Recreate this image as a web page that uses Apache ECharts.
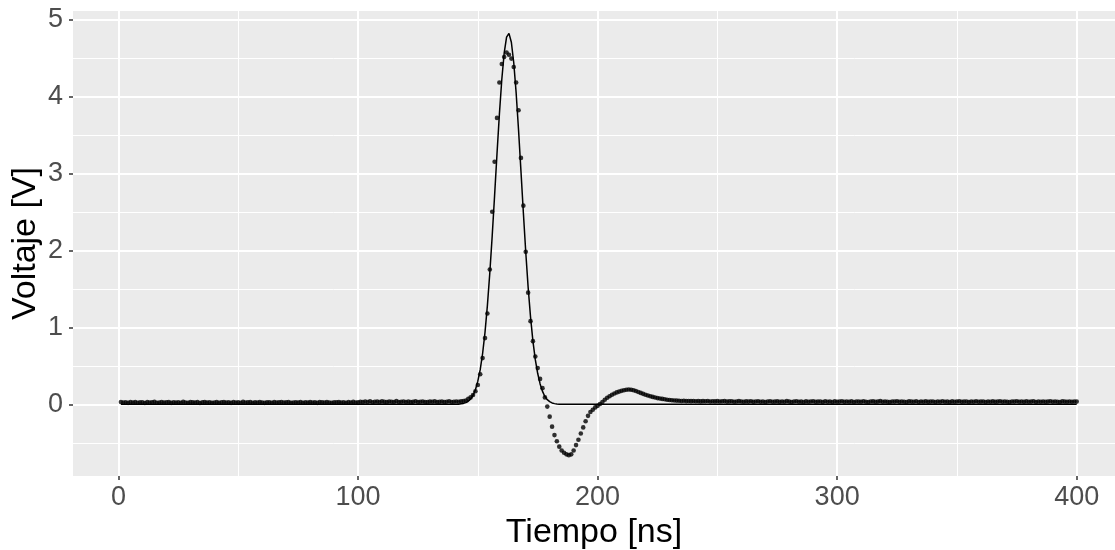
<!DOCTYPE html>
<html><head><meta charset="utf-8">
<script src="https://cdn.jsdelivr.net/npm/echarts@6/dist/echarts.min.js"></script>
<style>html,body{margin:0;padding:0;background:#fff}#c{width:1115px;height:550px}</style>
</head><body><div id="c"></div>
<script>
// ---- data ----
const xTicks = [0, 100, 200, 300, 400];
const yTicks = [0, 1, 2, 3, 4, 5];
const sampleStart = 1;      // ns, first sample
const sampleStep = 1;       // ns between samples

// measured voltage, t = 1..100
const voltBaseLeft = [
0.030,0.022,0.026,0.019,0.028,0.024,0.031,0.021,0.025,0.027,
0.018,0.029,0.023,0.026,0.032,0.020,0.024,0.028,0.022,0.025,
0.030,0.019,0.027,0.023,0.026,0.021,0.033,0.024,0.020,0.028,
0.025,0.022,0.029,0.018,0.026,0.031,0.023,0.027,0.021,0.024,
0.028,0.020,0.025,0.030,0.022,0.026,0.019,0.029,0.024,0.027,
0.021,0.032,0.023,0.025,0.028,0.020,0.026,0.022,0.030,0.024,
0.019,0.027,0.025,0.021,0.029,0.023,0.026,0.031,0.022,0.025,
0.028,0.020,0.024,0.027,0.023,0.030,0.021,0.026,0.024,0.028,
0.022,0.025,0.019,0.029,0.026,0.023,0.031,0.024,0.021,0.027,
0.025,0.030,0.022,0.026,0.020,0.028,0.024,0.032,0.023,0.027];
// t = 101..144
const voltBaseMid = [
0.034,0.029,0.036,0.031,0.039,0.027,0.033,0.035,0.030,0.038,
0.032,0.028,0.037,0.034,0.030,0.041,0.029,0.033,0.036,0.031,
0.035,0.028,0.032,0.039,0.030,0.034,0.037,0.031,0.029,0.035,
0.033,0.038,0.030,0.032,0.036,0.029,0.034,0.040,0.031,0.033,
0.036,0.034,0.039,0.042];
// t = 145..230
const voltPulse = [
0.05,0.07,0.09,0.12,0.17,0.25,0.39,0.60,0.86,1.18,
1.75,2.50,3.15,3.72,4.18,4.42,4.51,4.57,4.54,4.49,
4.38,4.18,3.82,3.20,2.58,1.98,1.45,1.08,0.82,0.62,
0.47,0.33,0.21,0.09,-0.03,-0.16,-0.29,-0.40,-0.48,-0.55,
-0.60,-0.63,-0.65,-0.66,-0.65,-0.60,-0.53,-0.46,-0.38,-0.30,
-0.22,-0.15,-0.10,-0.07,-0.04,-0.02,0.005,0.03,0.06,0.085,
0.105,0.125,0.14,0.155,0.165,0.175,0.183,0.19,0.192,0.19,
0.183,0.172,0.16,0.148,0.136,0.125,0.115,0.105,0.096,0.088,
0.081,0.075,0.07,0.065,0.06,0.056];
// t = 231..400
const voltBaseRight = [
0.053,0.050,0.048,0.047,0.044,0.046,0.042,0.044,0.041,0.043,
0.040,0.042,0.038,0.041,0.039,0.043,0.037,0.040,0.038,0.041,
0.036,0.039,0.042,0.035,0.038,0.040,0.034,0.037,0.041,0.036,
0.033,0.038,0.035,0.040,0.032,0.036,0.039,0.034,0.037,0.031,
0.036,0.040,0.033,0.035,0.038,0.032,0.037,0.034,0.041,0.035,
0.031,0.036,0.039,0.033,0.035,0.030,0.038,0.034,0.036,0.040,
0.032,0.035,0.037,0.031,0.039,0.034,0.036,0.030,0.038,0.033,
0.035,0.040,0.032,0.036,0.034,0.038,0.031,0.037,0.035,0.033,
0.039,0.034,0.030,0.036,0.038,0.032,0.035,0.041,0.033,0.036,
0.034,0.031,0.037,0.035,0.039,0.032,0.036,0.034,0.030,0.038,
0.035,0.033,0.040,0.031,0.036,0.034,0.038,0.032,0.035,0.037,
0.030,0.036,0.034,0.039,0.033,0.035,0.031,0.038,0.034,0.036,
0.040,0.032,0.035,0.037,0.031,0.036,0.034,0.039,0.033,0.035,
0.037,0.030,0.036,0.034,0.038,0.032,0.035,0.040,0.033,0.036,
0.034,0.031,0.037,0.035,0.039,0.033,0.036,0.032,0.038,0.034,
0.035,0.040,0.031,0.036,0.034,0.037,0.032,0.035,0.039,0.033,
0.036,0.034,0.030,0.038,0.035,0.033,0.037,0.034,0.036,0.035];

// fitted curve (solid line)
const fitTime = [1,142,143,144,145,146,147,148,149,150,151,152,153,154,155,156,157,158,159,160,161,162,163,164,165,166,167,168,169,170,171,172,173,174,175,176,177,178,179,180,181,182,183,184,400];
const fitVolt = [0,0,0.006,0.012,0.022,0.040,0.070,0.118,0.190,0.300,0.450,0.660,0.935,1.285,1.705,2.185,2.710,3.250,3.765,4.215,4.560,4.768,4.818,4.702,4.436,4.044,3.562,3.032,2.494,1.982,1.522,1.135,0.820,0.580,0.400,0.265,0.168,0.102,0.060,0.034,0.018,0.009,0.004,0,0];

// ---- build series ----
const measuredVolt = voltBaseLeft.concat(voltBaseMid, voltPulse, voltBaseRight);
const measured = measuredVolt.map((v, i) => [sampleStart + i * sampleStep, v]);
const fit = fitTime.map((t, i) => [t, fitVolt[i]]);

const FONT = 'Liberation Sans, Arial, sans-serif';
const chart = echarts.init(document.getElementById('c'), null, {renderer: 'canvas'});
chart.setOption({
  animation: false,
  backgroundColor: '#ffffff',
  grid: {left: 73, top: 11, right: 0, bottom: 74, show: true, backgroundColor: '#EBEBEB', borderWidth: 0,
         containLabel: false, outerBoundsMode: 'none'},
  xAxis: {
    type: 'value', min: -19, max: 416,
    name: 'Tiempo [ns]', nameLocation: 'middle', nameGap: 40, nameMoveOverlap: false,
    nameTextStyle: {fontFamily: FONT, fontSize: 34, color: '#000'},
    axisLine: {show: false, onZero: false},
    axisTick: {show: true, length: 4, lineStyle: {color: '#333333', width: 1.5}, customValues: xTicks},
    axisLabel: {customValues: xTicks, fontFamily: FONT, fontSize: 27, color: '#4D4D4D', margin: 8},
    splitLine: {show: true, lineStyle: {color: '#ffffff', width: 2}},
    minorTick: {show: false, splitNumber: 2},
    minorSplitLine: {show: true, lineStyle: {color: '#ffffff', width: 1}}
  },
  yAxis: {
    type: 'value', min: -0.931, max: 5.108,
    name: 'Voltaje [V]', nameLocation: 'middle', nameGap: 30, nameRotate: 90, nameMoveOverlap: false,
    nameTextStyle: {fontFamily: FONT, fontSize: 34, color: '#000'},
    axisLine: {show: false, onZero: false},
    axisTick: {show: true, length: 4, lineStyle: {color: '#333333', width: 1.5}, customValues: yTicks},
    axisLabel: {customValues: yTicks, fontFamily: FONT, fontSize: 27, color: '#4D4D4D', margin: 10},
    splitLine: {show: true, lineStyle: {color: '#ffffff', width: 2}},
    minorTick: {show: false, splitNumber: 2},
    minorSplitLine: {show: true, lineStyle: {color: '#ffffff', width: 1}}
  },
  series: [
    {type: 'line', data: fit, showSymbol: false, symbol: 'none', lineStyle: {color: '#000', width: 1.5}, z: 2, silent: true},
    {type: 'scatter', data: measured, symbol: 'circle', symbolSize: 4.6, itemStyle: {color: '#000'}, z: 3, silent: true}
  ]
});
</script>
</body></html>
